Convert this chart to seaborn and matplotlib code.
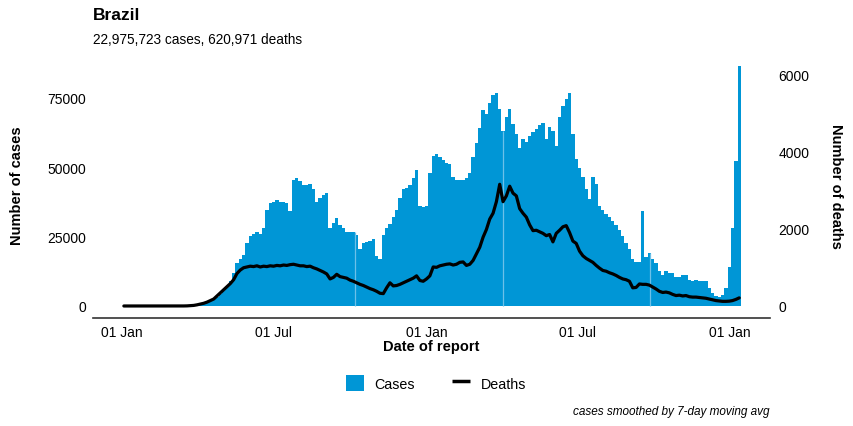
import numpy as np
import pandas as pd
import seaborn as sns
import matplotlib.pyplot as plt
import matplotlib.dates as mdates
from matplotlib.patches import Patch
from matplotlib.lines import Line2D

# Brazil: one value every 4 days, starting 2020-01-03
start_date = "2020-01-03"

# daily cases (thousands, 7-day avg)
cases_k = [
    0, 0, 0, 0, 0, 0, 0, 0, 0, 0,
    0, 0, 0, 0, 0, 0.002, 0.005, 0.02, 0.06, 0.15,
    0.25, 0.35, 0.5, 0.7, 1.0, 1.4, 1.8, 2.4, 3.2, 4.2,
    5.5, 7.0, 9.0, 12.0, 15.5, 17.0, 18.5, 22.5, 25.0, 26.0,
    26.5, 26.0, 28.0, 34.5, 37.0, 37.5, 38.0, 37.5, 37.5, 37.0,
    34.0, 45.5, 46.0, 45.0, 43.5, 43.5, 44.0, 42.0, 37.5, 39.0,
    40.0, 40.5, 28.0, 30.0, 31.5, 29.0, 28.0, 26.5, 26.5, 26.5,
    25.5, 20.5, 22.5, 23.0, 23.5, 24.0, 18.0, 16.9, 25.5, 28.0,
    29.5, 32.0, 34.5, 39.0, 42.0, 42.5, 43.5, 46.0, 49.0, 36.0,
    35.5, 36.0, 48.0, 54.0, 54.5, 53.5, 52.5, 51.5, 51.0, 46.5,
    45.5, 45.5, 45.5, 46.0, 48.0, 53.5, 58.5, 64.0, 70.5, 69.0,
    73.0, 76.0, 76.5, 71.0, 63.0, 68.0, 71.0, 65.5, 62.0, 57.0,
    60.0, 59.0, 61.0, 62.5, 63.5, 65.0, 66.0, 60.0, 64.5, 63.0,
    57.5, 68.0, 72.0, 74.5, 76.5, 62.0, 53.0, 49.5, 46.5, 42.0,
    38.5, 46.5, 44.0, 36.0, 34.5, 33.0, 32.0, 30.5, 29.0, 27.5,
    25.0, 22.5, 20.5, 17.0, 16.0, 15.8, 34.3, 17.5, 19.0, 16.9,
    15.5, 12.5, 11.0, 12.5, 12.0, 12.0, 10.5, 10.5, 11.0, 11.0,
    9.5, 9.0, 9.5, 9.0, 9.0, 9.0, 6.5, 4.5, 3.5, 3.2,
    4.0, 6.5, 14.0, 28.0, 52.0, 86.5,
]

# daily deaths (7-day avg)
deaths = [
    0, 0, 0, 0, 0, 0, 0, 0, 0, 0,
    0, 0, 0, 0, 0, 0, 0, 0, 1, 3,
    8, 15, 30, 50, 70, 100, 140, 180, 260, 340,
    420, 500, 580, 680, 840, 930, 990, 1010, 1030, 1020,
    1040, 1010, 1030, 1020, 1040, 1030, 1050, 1040, 1060, 1050,
    1070, 1080, 1060, 1040, 1040, 1020, 1030, 990, 960, 920,
    880, 830, 700, 740, 820, 760, 740, 720, 670, 640,
    600, 560, 530, 490, 450, 420, 380, 330, 320, 470,
    600, 520, 530, 560, 600, 640, 680, 720, 780, 660,
    640, 700, 780, 1010, 1000, 1040, 1060, 1080, 1090, 1060,
    1080, 1130, 1140, 1050, 1080, 1180, 1350, 1520, 1780, 1980,
    2250, 2400, 2700, 3150, 2700, 2850, 3100, 2920, 2850, 2520,
    2400, 2300, 2100, 1950, 1960, 1920, 1880, 1820, 1850, 1660,
    1880, 1960, 2050, 2080, 1900, 1680, 1620, 1420, 1300, 1230,
    1180, 1130, 1050, 980, 920, 900, 860, 830, 790, 740,
    700, 680, 640, 470, 480, 570, 560, 560, 540, 490,
    440, 380, 350, 360, 340, 300, 270, 280, 260, 270,
    240, 230, 230, 220, 210, 200, 180, 160, 140, 130,
    120, 120, 125, 140, 170, 210,
]

# days with no report (thin light lines in the bars)
gap_dates = ["2020-10-07", "2021-04-03", "2021-09-27"]

title = "Brazil"
subtitle = "22,975,723 cases, 620,971 deaths"
caption = "cases smoothed by 7-day moving avg"

dates = pd.date_range(start_date, periods=len(cases_k), freq="4D")
df = pd.DataFrame({
    "date": mdates.date2num(dates),
    "cases": np.array(cases_k) * 1000,
    "deaths": deaths,
})

sns.set_style("white")
plt.rcParams["font.family"] = ["Liberation Sans", "DejaVu Sans"]
plt.rcParams["text.color"] = "black"

blue = "#0096D6"
fig = plt.figure(figsize=(8.54, 4.27), dpi=100)
ax = fig.add_axes([0.109, 0.2529, 0.7926, 0.6194])

# cases as columns (one per 4-day step), drawn as one filled step shape
d0 = df["date"].iloc[0]
d1 = df["date"].iloc[-1]
sns.histplot(data=df, x="date", weights="cases", binwidth=4,
             binrange=(d0 - 2, d1 + 2), element="step", fill=True,
             color=blue, alpha=1, linewidth=0, ax=ax)

# light gaps
gx = mdates.date2num(pd.to_datetime(gap_dates))
idx = [int(np.argmin(np.abs(df["date"].values - g))) for g in gx]
ax.vlines(gx, 0, df["cases"].values[idx], color="#6CC0E8", lw=0.9)

cmax = df["cases"].max()
ax.set_ylim(-0.05 * cmax, 1.05 * cmax)
ax.set_xlim(d0 - 37, d1 + 37)

# deaths on second axis
ax2 = ax.twinx()
sns.lineplot(data=df, x="date", y="deaths", color="black", lw=2.3, ax=ax2)
ratio = 13.9
lo, hi = ax.get_ylim()
ax2.set_ylim(lo / ratio, hi / ratio)

ax.xaxis.set_major_locator(mdates.MonthLocator(bymonth=[1, 7]))
ax.xaxis.set_major_formatter(mdates.DateFormatter("%d %b"))
ax.set_yticks([0, 25000, 50000, 75000])
ax2.set_yticks([0, 2000, 4000, 6000])

ax.tick_params(axis="x", length=0, labelsize=10, pad=5, colors="black")
ax.tick_params(axis="y", length=0, labelsize=10, pad=5, colors="black")
ax2.tick_params(axis="y", length=0, labelsize=10, pad=6, colors="black")
ax.set_xlabel("")
ax.set_ylabel("")
ax2.set_xlabel("")
ax2.set_ylabel("")
ax.grid(False)
ax2.grid(False)

for s in ["left", "right", "top"]:
    ax.spines[s].set_visible(False)
ax.spines["bottom"].set_color("#333333")
ax.spines["bottom"].set_linewidth(1.2)
for s in ax2.spines.values():
    s.set_visible(False)

# texts
fig.text(93 / 854, 1 - 15 / 427, title, fontsize=12.5, fontweight="bold",
         ha="left", va="center")
fig.text(93 / 854, 1 - 40 / 427, subtitle, fontsize=9.8, ha="left", va="center")
fig.text(17 / 854, 1 - 186 / 427, "Number of cases", fontsize=10.5,
         fontweight="bold", rotation=90, ha="center", va="center")
fig.text(836 / 854, 1 - 186 / 427, "Number of deaths", fontsize=10.5,
         fontweight="bold", rotation=-90, ha="center", va="center")
fig.text(431 / 854, 1 - 347 / 427, "Date of report", fontsize=10.5,
         fontweight="bold", ha="center", va="center")
fig.text(770 / 854, 1 - 412 / 427, caption, fontsize=8.5, style="italic",
         ha="right", va="center")

handles = [Patch(facecolor=blue, edgecolor="none"),
           Line2D([0], [0], color="black", lw=2.5, solid_capstyle="butt")]
fig.legend(handles, ["Cases", "Deaths"], loc="center",
           bbox_to_anchor=(436 / 854, 1 - 384 / 427), ncol=2, frameon=False,
           fontsize=10.3, handlelength=1.25, handleheight=1.3,
           handletextpad=0.75, columnspacing=2.6)

fig.savefig("out.png", dpi=100)
